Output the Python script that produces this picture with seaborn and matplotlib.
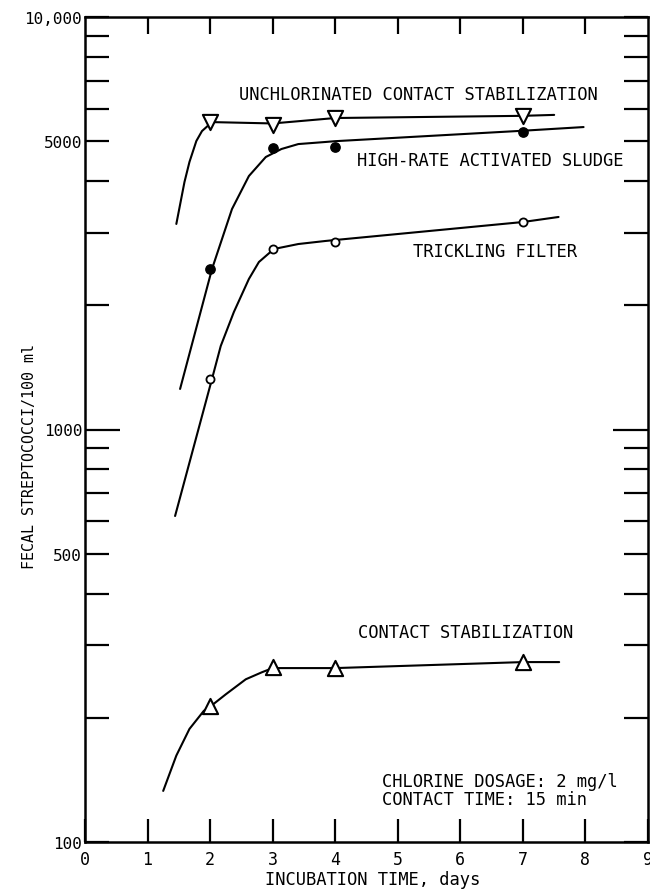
import numpy as np
import pandas as pd
import matplotlib
matplotlib.use("Agg")
import matplotlib.pyplot as plt
import seaborn as sns
from matplotlib.ticker import FixedLocator, FixedFormatter, FuncFormatter

# ---------------- data ----------------
days_points = [2, 3, 4, 7]

# unchlorinated contact stabilization (open down-triangles)
unchl_pts = [5560, 5470, 5690, 5754]
unchl_curve_x = [1.46, 1.59, 1.67, 1.78, 1.87, 2.03, 3.0, 4.0, 7.0, 7.5]
unchl_curve_y = [3150, 3980, 4453, 5005, 5290, 5562, 5520, 5690, 5760, 5790]

# high-rate activated sludge (filled circles)
hras_pts = [2450, 4813, 4840, 5262]
hras_curve_x = [1.52, 2.03, 2.35, 2.62, 2.89, 3.14, 3.41, 3.84, 4.0, 7.0, 7.97]
hras_curve_y = [1254, 2449, 3424, 4116, 4577, 4786, 4920, 4977, 5000, 5300, 5410]

# trickling filter (small open circles)
tf_pts = [1326, 2739, 2850, 3184]
tf_curve_x = [1.44, 2.03, 2.17, 2.38, 2.62, 2.78, 3.02, 3.41, 3.84, 4.0, 7.0, 7.57]
tf_curve_y = [617, 1326, 1594, 1927, 2317, 2547, 2739, 2816, 2864, 2880, 3184, 3275]

# contact stabilization (open up-triangles)
cs_pts = [214, 265, 264, 273]
cs_curve_x = [1.25, 1.46, 1.67, 1.90, 2.02, 2.25, 2.57, 2.83, 3.0, 4.0, 7.0, 7.58]
cs_curve_y = [133, 162, 188, 208, 214, 228, 248, 258, 264, 264, 273, 273]

x_ticks = [0, 1, 2, 3, 4, 5, 6, 7, 8, 9]
x_ticklabels = ["0", "1", "2", "3", "4", "5", "6", "7", "8", "9"]
y_labelled = {100: "100", 500: "500", 1000: "1000", 5000: "5000", 10000: "10,000"}
y_minor = [100, 200, 300, 400, 500, 600, 700, 800, 900,
           2000, 3000, 4000, 5000, 6000, 7000, 8000, 9000, 10000]

labels = {
    "UNCHLORINATED CONTACT STABILIZATION": (2.46, 6505),
    "HIGH-RATE ACTIVATED SLUDGE": (4.35, 4501),
    "TRICKLING FILTER": (5.24, 2708),
    "CONTACT STABILIZATION": (4.37, 323),
}
note_lines = ["CHLORINE DOSAGE: 2 mg/l", "CONTACT TIME: 15 min"]
note_pos = [(4.75, 140.6), (4.75, 127)]

# ---------------- style ----------------
sns.set_style("white")
plt.rcParams["font.family"] = ["DejaVu Sans Mono", "DejaVu Sans"]
plt.rcParams["text.color"] = "black"
plt.rcParams["axes.labelcolor"] = "black"
plt.rcParams["xtick.color"] = "black"
plt.rcParams["ytick.color"] = "black"
FS = 12.3

fig = plt.figure(figsize=(6.5, 8.95), dpi=100)
ax = fig.add_axes([85 / 650, 1 - 843 / 895, (648 - 85) / 650, (843 - 18) / 895])

LW = 1.5
series = [
    (unchl_curve_x, unchl_curve_y, unchl_pts, dict(marker="v", s=120, facecolor="white", edgecolor="black", linewidth=1.5)),
    (hras_curve_x, hras_curve_y, hras_pts, dict(marker="o", s=45, facecolor="black", edgecolor="black", linewidth=1.0)),
    (tf_curve_x, tf_curve_y, tf_pts, dict(marker="o", s=34, facecolor="white", edgecolor="black", linewidth=1.3)),
    (cs_curve_x, cs_curve_y, cs_pts, dict(marker="^", s=120, facecolor="white", edgecolor="black", linewidth=1.5)),
]
for cx, cy, pts, mk in series:
    dfc = pd.DataFrame({"day": cx, "val": cy})
    sns.lineplot(data=dfc, x="day", y="val", ax=ax, color="black", linewidth=LW,
                 sort=False, estimator=None, zorder=2)
    dfp = pd.DataFrame({"day": days_points, "val": pts})
    sns.scatterplot(data=dfp, x="day", y="val", ax=ax, zorder=3, **mk)

ax.set_yscale("log")
ax.set_xlim(0, 9)
ax.set_ylim(100, 10000)

# y ticks
ax.yaxis.set_major_locator(FixedLocator([1000]))
ax.yaxis.set_major_formatter(FixedFormatter(["1000"]))
ax.yaxis.set_minor_locator(FixedLocator(y_minor))
ax.yaxis.set_minor_formatter(FuncFormatter(lambda v, p: y_labelled.get(int(round(v)), "")))
ax.tick_params(axis="y", which="major", direction="in", length=25, width=1.6,
               left=True, right=True, labelsize=11.5, pad=2)
ax.tick_params(axis="y", which="minor", direction="in", length=17, width=1.6,
               left=True, right=True, labelsize=11.5, pad=2)

# x ticks
ax.xaxis.set_major_locator(FixedLocator(x_ticks))
ax.xaxis.set_major_formatter(FixedFormatter(x_ticklabels))
ax.xaxis.set_minor_locator(FixedLocator([]))
ax.tick_params(axis="x", which="major", direction="in", length=16.5, width=1.6,
               bottom=True, top=False, labelsize=12, pad=6)
sec = ax.secondary_xaxis("top")
sec.set_xticks(x_ticks[1:-1])
sec.set_xticklabels([])
sec.tick_params(axis="x", direction="in", length=12, width=1.6)
sec.spines["top"].set_visible(False)

for sp in ax.spines.values():
    sp.set_linewidth(1.8)
    sp.set_color("black")

ax.set_xlabel("")
ax.set_ylabel("")
ax.text(0.5115, -0.045, "INCUBATION TIME, days", transform=ax.transAxes,
        ha="center", va="center", fontsize=FS)
ax.text(-0.098, 0.469, "FECAL STREPTOCOCCI/100 ml", transform=ax.transAxes,
        ha="center", va="center", rotation=90, fontsize=10.8)

for txt, (x, y) in labels.items():
    ax.text(x, y, txt, ha="left", va="center", fontsize=FS)
for txt, (x, y) in zip(note_lines, note_pos):
    ax.text(x, y, txt, ha="left", va="center", fontsize=FS)

fig.savefig("out.png", dpi=100)
